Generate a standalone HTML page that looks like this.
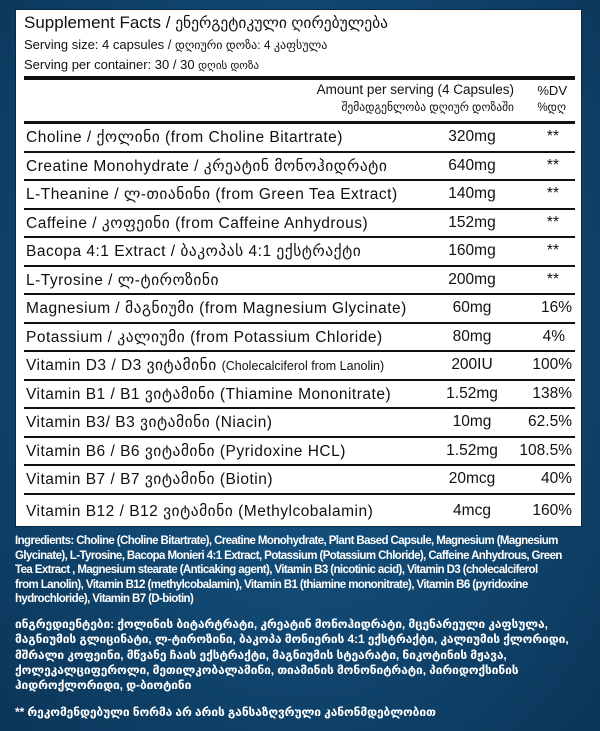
<!DOCTYPE html>
<html><head><meta charset="utf-8"><style>
*{margin:0;padding:0;box-sizing:border-box}
body{width:600px;height:731px;overflow:hidden;background:radial-gradient(ellipse at 50% 45%,#1a5a88 0%,#124a75 45%,#0b3558 100%);font-family:"Liberation Sans","DejaVu Sans",sans-serif;position:relative}
.box{position:absolute;left:15px;top:9px;width:567px;height:518px;background:#fff;border:1px solid #0a2a44}
.t{position:absolute;white-space:nowrap;color:#111}
.hl{position:absolute;left:8px;right:6px;background:#111}
.row{position:absolute;left:8px;right:6px;height:28.5px;border-bottom:2px solid #111;font-size:15.5px;color:#111}
.row span{position:absolute;top:4px;white-space:nowrap}
.row .n{left:2px;letter-spacing:0.5px}
.row .a{right:103px;transform:translateX(50%)}
.row .d{right:3px}
.foot{position:absolute;left:15px;width:578px;color:#fff;font-weight:bold;font-size:11.5px;line-height:14.5px;letter-spacing:-0.6px}
</style></head><body>
<div class="box">
<div class="t" style="left:8px;top:3px;font-size:17px">Supplement Facts / <span style="font-size:15.5px">ენერგეტიკული ღირებულება</span></div>
<div class="t" style="left:8px;top:27px;font-size:13px">Serving size: 4 capsules / <span style="font-size:12px">დღიური დოზა: 4 კაფსულა</span></div>
<div class="t" style="left:8px;top:47px;font-size:13px">Serving per container: 30 / 30 <span style="font-size:11px">დღის დოზა</span></div>
<div class="hl" style="top:66px;height:4px"></div>
<div class="t" style="right:67px;top:72px;font-size:13.5px">Amount per serving (4 Capsules)</div>
<div class="t" style="right:67px;top:90px;font-size:11.5px">შემადგენლობა დღიურ დოზაში</div>
<div class="t" style="right:14px;top:73px;font-size:13px">%DV</div>
<div class="t" style="right:15px;top:90px;font-size:11.5px">%დღ</div>
<div class="hl" style="top:111px;height:3px"></div>
<div style="position:absolute;left:0;right:0;top:114px">
<div class="row" style="top:0"><span class="n">Choline / ქოლინი (from Choline Bitartrate)</span><span class="a">320mg</span><span class="d" style="right:16px">**</span></div>
<div class="row" style="top:28.5px"><span class="n">Creatine Monohydrate / კრეატინ მონოჰიდრატი</span><span class="a">640mg</span><span class="d" style="right:16px">**</span></div>
<div class="row" style="top:57px"><span class="n">L-Theanine / ლ-თიანინი (from Green Tea Extract)</span><span class="a">140mg</span><span class="d" style="right:16px">**</span></div>
<div class="row" style="top:85.5px"><span class="n">Caffeine / კოფეინი (from Caffeine Anhydrous)</span><span class="a">152mg</span><span class="d" style="right:16px">**</span></div>
<div class="row" style="top:114px"><span class="n">Bacopa 4:1 Extract / ბაკოპას 4:1 ექსტრაქტი</span><span class="a">160mg</span><span class="d" style="right:16px">**</span></div>
<div class="row" style="top:142.5px"><span class="n">L-Tyrosine / ლ-ტიროზინი</span><span class="a">200mg</span><span class="d" style="right:16px">**</span></div>
<div class="row" style="top:171px"><span class="n">Magnesium / მაგნიუმი (from Magnesium Glycinate)</span><span class="a">60mg</span><span class="d">16%</span></div>
<div class="row" style="top:199.5px"><span class="n">Potassium / კალიუმი (from Potassium Chloride)</span><span class="a">80mg</span><span class="d" style="right:10px">4%</span></div>
<div class="row" style="top:228px"><span class="n">Vitamin D3 / D3 ვიტამინი <span style="position:static;font-size:12.5px;letter-spacing:0">(Cholecalciferol from Lanolin)</span></span><span class="a">200IU</span><span class="d">100%</span></div>
<div class="row" style="top:256.5px"><span class="n">Vitamin B1 / B1 ვიტამინი (Thiamine Mononitrate)</span><span class="a">1.52mg</span><span class="d">138%</span></div>
<div class="row" style="top:285px"><span class="n">Vitamin B3/ B3 ვიტამინი (Niacin)</span><span class="a">10mg</span><span class="d">62.5%</span></div>
<div class="row" style="top:313.5px"><span class="n">Vitamin B6 / B6 ვიტამინი (Pyridoxine HCL)</span><span class="a">1.52mg</span><span class="d">108.5%</span></div>
<div class="row" style="top:342px"><span class="n">Vitamin B7 / B7 ვიტამინი (Biotin)</span><span class="a">20mcg</span><span class="d">40%</span></div>
<div class="row" style="top:370.5px;border:none;height:33px"><span class="n" style="top:7px">Vitamin B12 / B12 ვიტამინი (Methylcobalamin)</span><span class="a" style="top:7px">4mcg</span><span class="d" style="top:7px">160%</span></div>
</div>
</div>
<div class="foot" style="top:534px">Ingredients: Choline (Choline Bitartrate), Creatine Monohydrate, Plant Based Capsule, Magnesium (Magnesium<br>Glycinate), L-Tyrosine, Bacopa Monieri 4:1 Extract, Potassium (Potassium Chloride), Caffeine Anhydrous, Green<br>Tea Extract , Magnesium stearate (Anticaking agent), Vitamin B3 (nicotinic acid), Vitamin D3 (cholecalciferol<br>from Lanolin), Vitamin B12 (methylcobalamin), Vitamin B1 (thiamine mononitrate), Vitamin B6 (pyridoxine<br>hydrochloride), Vitamin B7 (D-biotin)</div>
<div class="foot" style="top:617px;font-size:12px;line-height:15.3px;letter-spacing:-0.1px;width:560px">ინგრედიენტები: ქოლინის ბიტარტრატი, კრეატინ მონოჰიდრატი, მცენარეული კაფსულა, მაგნიუმის გლიცინატი, ლ-ტიროზინი, ბაკოპა მონიერის 4:1 ექსტრაქტი, კალიუმის ქლორიდი, მშრალი კოფეინი, მწვანე ჩაის ექსტრაქტი, მაგნიუმის სტეარატი, ნიკოტინის მჟავა, ქოლეკალციფეროლი, მეთილკობალამინი, თიამინის მონონიტრატი, პირიდოქსინის ჰიდროქლორიდი, დ-ბიოტინი</div>
<div class="foot" style="top:705px;font-size:12px;letter-spacing:-0.1px">** რეკომენდებული ნორმა არ არის განსაზღვრული კანონმდებლობით</div>
</body></html>
